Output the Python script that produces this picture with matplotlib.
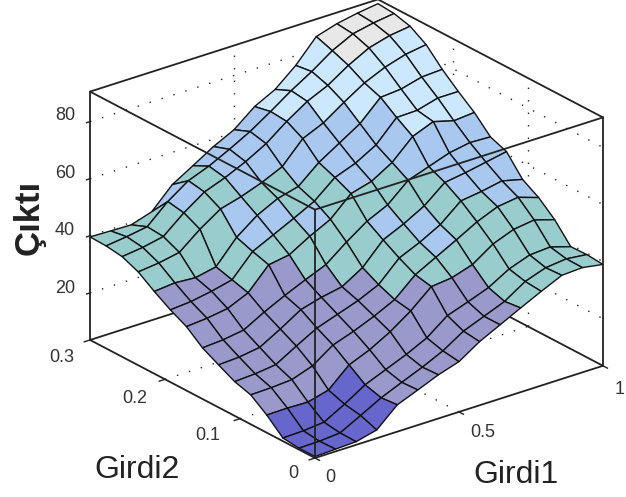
import numpy as np
import matplotlib
matplotlib.use("Agg")
import matplotlib.pyplot as plt
from mpl_toolkits.mplot3d import proj3d
from matplotlib.colors import ListedColormap

plt.rcParams['font.family'] = ['Liberation Sans', 'DejaVu Sans']

girdi1 = np.linspace(0, 1, 15)
girdi2 = np.linspace(0, 0.3, 15)
cikti = np.array([
 [4,4.3,4.6,6.4,12.9,15.8,18.8,21.1,25.8,29.4,33,36.5,39.8,40.2,39],
 [4,4.1,4.7,8.5,12.4,15.5,18.5,21.9,26.5,29.4,32.3,37,39.5,40.3,39.5],
 [4.6,4.8,5.5,9.5,14,17,20,23.5,29,31.5,34.2,38.4,41,41.5,39.3],
 [9.7,9.8,9.6,11.5,18,21,25,30,36.2,37,39.3,44.2,47,48,45.8],
 [13.8,14,14.5,17,22,24.5,27.5,31,37.4,41.2,45,49,52,53,50.6],
 [15.5,15.9,16.8,21,25,27.5,30,33.3,40.3,43.5,47.4,53.4,54.4,55.8,54],
 [18.4,18.8,19.9,24,28.5,30.5,31.9,36.3,43.7,47,51,56.9,58,59.4,60.8],
 [21.4,21.9,23,27,30.5,33.7,36.7,42.3,47.3,50.7,57,59.5,62,63.3,63],
 [25.9,26.5,27.6,30.8,38.3,39.5,43.7,47.3,54,56,60.3,67.1,70,68,68.6],
 [28.8,29.4,30.7,32.4,40,43.5,47,50.7,56.7,59.4,63.5,70.8,71,73,73],
 [32.3,33,32.5,34,42,47.4,51,52.9,59,63.5,68,74.9,75.5,77.4,77.8],
 [36.2,37,38.4,44.2,49,51,53.6,56.9,64.4,67.6,72.5,77,80.2,82.4,83.5],
 [38.6,39.5,41,47,52,54.7,58,62,67.5,72.2,75.5,80.2,84,86,87],
 [39.4,40.3,41.5,48,53,55.8,59.4,63.3,68,73,77.4,82.4,86,87.5,88.5],
 [39.6,39.4,39.2,41.5,48.7,53,57.4,61,66.8,70.5,76.6,84.4,86.6,88,89],
])
# colour band of each grid cell (0 darkest ... 5 grey)
cell_bands = np.array([
 [0,0,0,0,1,1,1,1,1,1,2,2,2,2],
 [0,0,0,0,1,1,1,1,1,1,2,2,2,2],
 [0,0,0,0,1,1,1,1,1,1,2,2,2,2],
 [1,1,1,1,1,1,1,1,2,2,2,2,2,2],
 [1,1,1,1,1,1,1,2,2,3,2,2,3,3],
 [1,1,1,1,1,1,1,2,2,3,2,3,3,3],
 [1,1,1,1,1,1,2,2,3,2,2,3,3,3],
 [1,1,1,1,1,2,2,2,2,2,3,3,3,3],
 [1,1,1,2,2,2,3,2,3,3,3,4,4,4],
 [1,1,1,2,3,3,2,2,3,3,3,4,4,4],
 [2,2,2,2,3,2,2,3,3,3,4,4,4,4],
 [2,2,2,2,2,3,3,3,3,4,4,4,4,4],
 [2,2,2,3,2,3,3,3,4,4,4,5,5,5],
 [2,2,2,3,2,3,3,3,4,4,4,5,5,5],
])
band_colors = ['#6666CC', '#9999CC', '#99CCCC', '#A8C8F0', '#CCE8FF', '#E8E8E8']
x_ticks = [0, 0.5, 1]
y_ticks = [0, 0.1, 0.2, 0.3]
z_ticks = [20, 40, 60, 80]
x_labels = ['0', '0.5', '1']
y_labels = ['0', '0.1', '0.2', '0.3']
z_labels = ['20', '40', '60', '80']
xmin, xmax, ymin, ymax, zmin, zmax = 0, 1, 0, 0.3, 3.5, 90.5

W, H = 626, 497
fig = plt.figure(figsize=(W/100, H/100), dpi=100, facecolor='white')
ax = fig.add_axes([0.1, 0.1, 0.8, 0.8], projection='3d', computed_zorder=False, proj_type='ortho')
ax.set_xlim(xmin, xmax); ax.set_ylim(ymin, ymax); ax.set_zlim(zmin, zmax)
ax.set_box_aspect((365, 365, 272))
ax.view_init(elev=24.2, azim=-128)
ax.set_axis_off()
ax.patch.set_alpha(0)

def to_px(x, y, z):
    ax.apply_aspect()
    ax.M = ax.get_proj()
    px, py, _ = proj3d.proj_transform(x, y, z, ax.M)
    return ax.transData.transform((px, py))

# fit the axes so the box corners land where they do in the reference
A_t = np.array([315, H-458.0]); B_t = np.array([603, H-366.0])
for _ in range(3):
    A, B = to_px(xmin, ymin, zmin), to_px(xmax, ymin, zmin)
    r = np.linalg.norm(B_t-A_t)/np.linalg.norm(B-A)
    pos = ax.get_position()
    side = pos.width*W*r
    ax.set_position([pos.x0, pos.y0, side/W, side/H])
    A = to_px(xmin, ymin, zmin)
    pos = ax.get_position()
    d = A_t-A
    ax.set_position([pos.x0+d[0]/W, pos.y0+d[1]/H, pos.width, pos.height])

X, Y = np.meshgrid(girdi1, girdi2)
cmap = ListedColormap(band_colors)
ax.plot_surface(X, Y, cikti, facecolors=cmap(cell_bands), rstride=1, cstride=1, shade=False,
                edgecolor='#111111', linewidth=1.0, antialiased=True, zorder=3)

dot = dict(color='#222222', lw=1.0, linestyle=(0, (1, 8)), zorder=1)
for z in z_ticks:
    ax.plot([xmin, xmax], [ymax, ymax], [z, z], **dot)
    ax.plot([xmax, xmax], [ymax, ymin], [z, z], **dot)
for x in x_ticks[1:-1]:
    ax.plot([x, x], [ymax, ymax], [zmin, zmax], **dot)
    ax.plot([x, x], [ymin, ymax], [zmin, zmin], **dot)
for y in y_ticks[1:-1]:
    ax.plot([xmax, xmax], [y, y], [zmin, zmax], **dot)
    ax.plot([xmin, xmax], [y, y], [zmin, zmin], **dot)

line = dict(color='#222222', lw=1.3, solid_capstyle='round')
back = [((xmin, ymax, zmax), (xmax, ymax, zmax)), ((xmax, ymax, zmax), (xmax, ymin, zmax)),
        ((xmin, ymax, zmin), (xmax, ymax, zmin)), ((xmax, ymax, zmin), (xmax, ymin, zmin))]
front = [((xmin, ymax, zmax), (xmin, ymin, zmax)), ((xmin, ymin, zmax), (xmax, ymin, zmax)),
         ((xmin, ymin, zmax), (xmin, ymin, zmin)), ((xmin, ymax, zmax), (xmin, ymax, zmin)),
         ((xmax, ymin, zmax), (xmax, ymin, zmin)), ((xmin, ymax, zmin), (xmin, ymin, zmin)),
         ((xmin, ymin, zmin), (xmax, ymin, zmin))]
for p, q in back:
    ax.plot(*zip(p, q), zorder=2, **line)
for p, q in front:
    ax.plot(*zip(p, q), zorder=5, **line)

tick = dict(color='#222222', lw=1.0, zorder=5)
for x in x_ticks:
    ax.plot([x, x], [ymin, ymin-0.006], [zmin, zmin], **tick)
for y in y_ticks:
    ax.plot([xmin, xmin-0.02], [y, y], [zmin, zmin], **tick)
for z in z_ticks:
    ax.plot([xmin, xmin-0.012], [ymax, ymax], [z, z], **tick)

tk = dict(fontsize=13, color='#333333', ha='center', va='center', xycoords='data', textcoords='offset pixels', zorder=6)
def label(pt, s, off):
    ax.M = ax.get_proj()
    px, py, _ = proj3d.proj_transform(*pt, ax.M)
    ax.annotate(s, xy=(px, py), xytext=off, **tk)
for x, s, off in zip(x_ticks, x_labels, [(15, -20), (24, -21), (17, -24)]):
    label((x, ymin, zmin), s, off)
for y, s, off in zip(y_ticks, y_labels, [(-22, -15), (-32, -17), (-30, -19), (-28, -18)]):
    label((xmin, y, zmin), s, off)
for z, s, off in zip(z_ticks, z_labels, [(-25, 4), (-25, 5), (-25, 5), (-25, 6)]):
    label((xmin, ymax, z), s, off)

fig.text(137/W, 1-470/H, 'Girdi2', fontsize=23, color='#222222', ha='center', va='center')
fig.text(516/W, 1-475/H, 'Girdi1', fontsize=23, color='#222222', ha='center', va='center')
fig.text(29/W, 1-217/H, 'Çıktı', fontsize=25, fontweight='bold', color='#222222', rotation=90, ha='center', va='center')

fig.savefig('out.png', dpi=100)
